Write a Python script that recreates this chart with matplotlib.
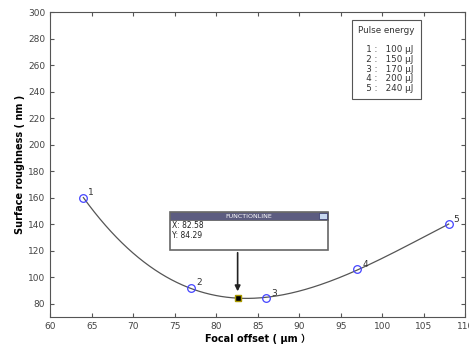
import numpy as np
import matplotlib
matplotlib.use('Agg')
import matplotlib.pyplot as plt
from matplotlib.patches import Rectangle

# measured points (focal offset, roughness)
offset = [64, 77, 86, 97, 108]
rough = [160, 92, 84, 106, 140]
labels = ['1', '2', '3', '4', '5']
energy = ['100', '150', '170', '200', '240']
tip_x, tip_y = 82.58, 84.29

plt.rcParams['font.family'] = ['DejaVu Sans', 'Noto Sans CJK SC']
fig = plt.figure(figsize=(4.69, 3.45), dpi=100)
ax = fig.add_axes([0.107, 0.081, 0.885, 0.884])

# fitted curve through the points
coef = np.polyfit(offset + [tip_x], rough + [tip_y], 3)
xs = np.linspace(offset[0], offset[-1], 200)
ax.plot(xs, np.polyval(coef, xs), color='#555555', lw=0.9)
ax.plot(offset, rough, 'o', mfc='none', mec='#4444ff', ms=5.5, mew=0.9)
for x, y, l in zip(offset, rough, labels):
    ax.text(x + 0.6, y + 2, l, fontsize=6.5, color='#333333')

ax.set_xlim(60, 110)
ax.set_ylim(70, 300)
ax.set_xticks(np.arange(60, 111, 5))
ax.set_yticks(np.arange(80, 301, 20))
ax.tick_params(direction='in', top=True, right=True, labelsize=6.5,
               labelcolor='#444444', color='#555555', length=3)
for s in ax.spines.values():
    s.set_color('#555555')
ax.set_xlabel('Focal offset ( μm ）', fontsize=7, fontweight='bold', labelpad=2)
ax.set_ylabel('Surface roughness ( nm )', fontsize=7, fontweight='bold', labelpad=2)

# legend box
leg = 'Pulse energy\n\n' + '\n'.join('   %s :   %s μJ' % (l, e) for l, e in zip(labels, energy))
ax.text(0.742, 0.955, leg, transform=ax.transAxes, fontsize=6.3, va='top',
        color='#333333', linespacing=1.1,
        bbox=dict(boxstyle='square,pad=0.7', fc='white', ec='#555555', lw=0.8))

# data tip
bx0, bx1, by0, by1 = 74.4, 93.5, 120.6, 149.2
ax.add_patch(Rectangle((bx0, by0), bx1 - bx0, by1 - by0, fc='white', ec='#666666', lw=1.2, zorder=5))
ax.add_patch(Rectangle((bx0, by1 - 6), bx1 - bx0, 6, fc='#5c5c80', ec='#666666', lw=0.6, zorder=6))
ax.add_patch(Rectangle((bx1 - 1.1, by1 - 5.5), 0.9, 5, fc='#c8d8f0', ec='#333366', lw=0.5, zorder=7))
ax.text((bx0 + bx1) / 2, by1 - 3, 'FUNCTIONLINE', fontsize=4.5, color='white',
        ha='center', va='center', zorder=7)
ax.text(bx0 + 0.3, by1 - 7, 'X: %.2f\nY: %.2f' % (tip_x, tip_y), fontsize=5.5,
        va='top', color='#222222', linespacing=1.1, zorder=7)
ax.annotate('', xy=(tip_x, tip_y + 3), xytext=(tip_x, by0),
            arrowprops=dict(arrowstyle='-|>', color='#222222', lw=1.2, mutation_scale=8), zorder=6)
ax.plot([tip_x], [tip_y], 's', color='black', mec='#aa9900', ms=4, zorder=8)

fig.savefig('out.png', dpi=100)
